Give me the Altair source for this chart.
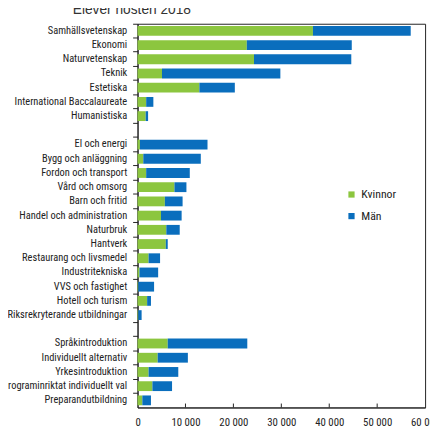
import altair as alt
import pandas as pd

categories = [
    "Samhällsvetenskap", "Ekonomi", "Naturvetenskap", "Teknik", "Estetiska",
    "International Baccalaureate", "Humanistiska", " ",
    "El och energi", "Bygg och anläggning", "Fordon och transport", "Vård och omsorg",
    "Barn och fritid", "Handel och administration", "Naturbruk", "Hantverk",
    "Restaurang och livsmedel", "Industritekniska", "VVS och fastighet",
    "Hotell och turism", "Riksrekryterande utbildningar", "  ",
    "Språkintroduktion", "Individuellt alternativ", "Yrkesintroduktion",
    "Programinriktat individuellt val", "Preparandutbildning",
]
programs = [c for c in categories if c.strip()]
kvinnor = [36600, 22800, 24300, 5100, 12900, 1800, 1700,
           500, 1200, 1800, 7700, 5700, 4900, 6000, 5900, 2300, 400, 150, 2000, 150,
           6300, 4200, 2300, 3100, 1000]
man = [20400, 21900, 20300, 24700, 7400, 1500, 500,
       14100, 12000, 9100, 2500, 3700, 4300, 2800, 400, 2400, 3900, 3300, 800, 700,
       16600, 6300, 6200, 4100, 1800]
series = ["Kvinnor", "Män"]
colors = ["#8cc63f", "#0a6ebd"]
x_ticks = [0, 10000, 20000, 30000, 40000, 50000, 60000]
title_text = "Elever hösten 2018"

rows = []
for p, k, m in zip(programs, kvinnor, man):
    rows.append({"Program": p, "Kön": "Kvinnor", "Antal": k, "ordning": 0})
    rows.append({"Program": p, "Kön": "Män", "Antal": m, "ordning": 1})
df = pd.DataFrame(rows)

FONT = "Roboto Condensed, Liberation Sans Narrow, DejaVu Sans Condensed, sans-serif"
INK = "#222222"
FS = 10.6

bars = alt.Chart(df).mark_bar(size=10).encode(
    y=alt.Y("Program:N",
            scale=alt.Scale(domain=categories, paddingInner=0, paddingOuter=0),
            axis=alt.Axis(title=None, bandPosition=0, tickSize=5, tickColor=INK,
                          domainColor=INK, labelPadding=6, labelFont=FONT,
                          labelFontSize=FS, labelColor=INK, labelOverlap=False,
                          grid=False)),
    x=alt.X("Antal:Q", stack="zero",
            scale=alt.Scale(domain=[0, 60000], nice=False),
            axis=alt.Axis(title=None, values=x_ticks, ticks=False, tickSize=0,
                          grid=False, domainColor=INK, labelPadding=9,
                          labelFont=FONT, labelFontSize=11, labelColor=INK,
                          labelFlush=False, labelOverlap=False,
                          labelExpr="replace(format(datum.value, ','), ',', ' ')")),
    color=alt.Color("Kön:N", scale=alt.Scale(domain=series, range=colors),
                    legend=alt.Legend(title=None, orient="none", legendX=212,
                                      legendY=168, symbolType="square",
                                      symbolSize=40, symbolStrokeWidth=0,
                                      labelFont=FONT, labelFontSize=12,
                                      labelColor=INK, rowPadding=10, padding=0)),
    order=alt.Order("ordning:Q"),
)

ticks = alt.Chart(pd.DataFrame({"v": x_ticks[1:-1]})).mark_rule(color=INK).encode(
    x="v:Q", y=alt.value(391), y2=alt.value(387)
)

title = alt.Chart(pd.DataFrame({"t": [title_text]})).mark_text(
    align="left", baseline="bottom", fontSize=14,
    font="Liberation Sans, Arial, sans-serif", color="#333333"
).encode(x=alt.value(-66), y=alt.value(-7), text="t:N")

chart = alt.layer(bars, ticks, title).properties(
    width=293,
    height=391,
    autosize=alt.AutoSizeParams(type="none"),
    padding={"left": 132, "top": 12, "right": 5, "bottom": 24},
).configure_view(stroke=INK, strokeWidth=1)

chart.save("out.html", embed_options={"renderer": "svg", "actions": False})
